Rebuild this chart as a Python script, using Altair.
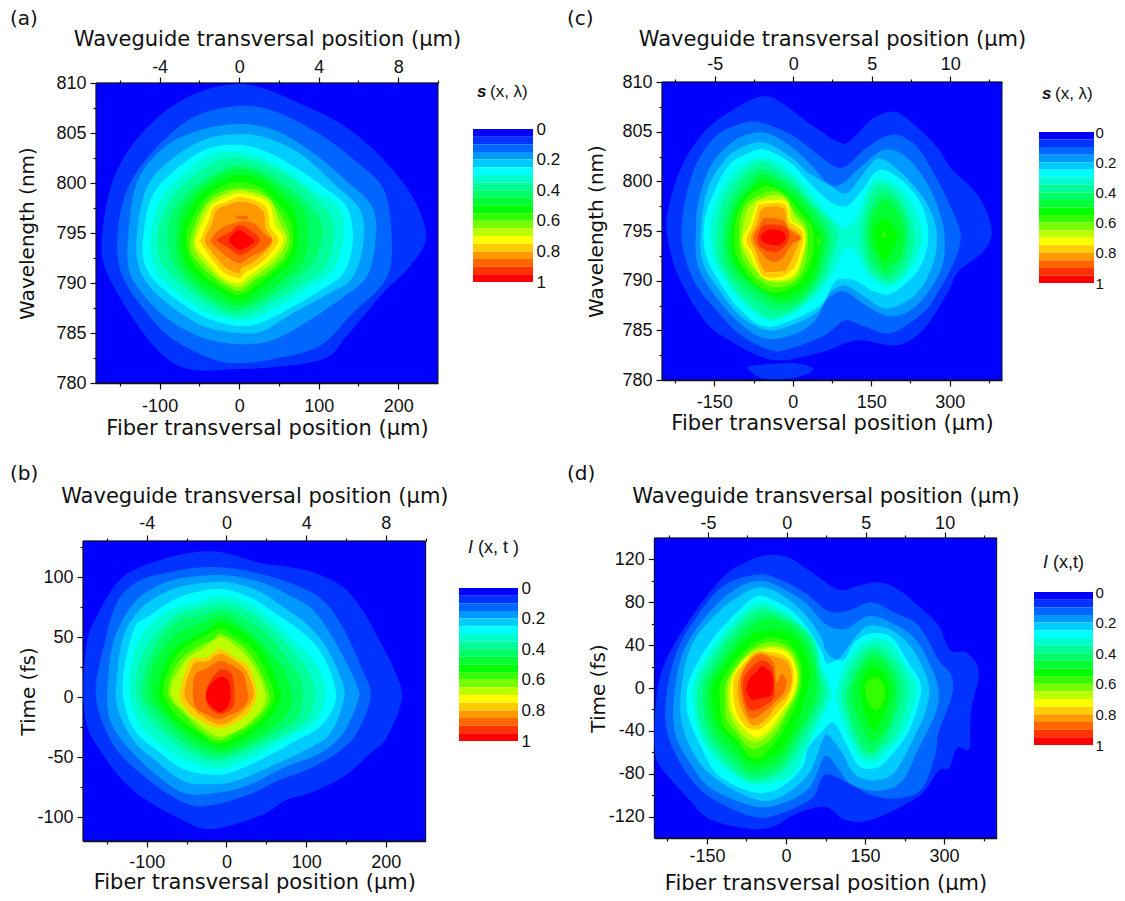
import altair as alt
import pandas as pd

COLORS = ["#0000ff","#0033ff","#0066ff","#0099ff","#00ccff","#00ffff","#00ffcc","#00ff99","#00ff66","#00ff33",
          "#00ff00","#33ff00","#77ff00","#bbff00","#ffff00","#ffcc00","#ff9900","#ff6600","#ff3300","#ff0000"]

# Contours: (band index, [(fiber position um, wavelength nm or time fs), ...])
A = [
(1,[(0,809.9),(81,807.8),(148,804.8),(210,799.6),(235,794.8),(214,791.6),(181,789),(135,784.7),(102,782.3),(0,781.4),(-87,782.2),(-162,790.3),(-171,795.6),(-147,802.3),(-82,807.8)]),
(2,[(0,807.7),(47,807.1),(101,804.9),(143,802.4),(182,799.3),(192,794),(184,790.3),(143,787),(101,783.7),(43,782.4),(0,782),(-34,782.4),(-82,784.3),(-116,787),(-147,790.7),(-153,794.6),(-141,799.3),(-107,803.3),(-57,806.6)]),
(3,[(0,805.9),(47,805.2),(93,803),(135,800.2),(168,797.5),(171,793.9),(160,790.6),(131,788.6),(81,785.9),(39,784.2),(0,783.9),(-45,784.5),(-91,786.5),(-124,789.2),(-139,791.5),(-139,795.2),(-128,800.2),(-95,803.5),(-53,805.2)]),
(4,[(0,804.9),(39,804.4),(81,802.7),(118,800),(152,797.3),(156,794),(143,790.6),(114,789),(68,787),(30,785.2),(0,785),(-45,785.7),(-86,787.7),(-116,790),(-128,792.3),(-128,795.3),(-116,799.6),(-86,802.3),(-45,804.3)]),
(5,[(0,803.8),(35,803.1),(72,801.5),(106,799.6),(135,797.6),(143,794.3),(131,791),(97,789),(60,787.3),(26,786),(0,785.7),(-41,786.5),(-78,788.3),(-107,790.3),(-120,792.3),(-120,794.9),(-110,798.6),(-82,801.2),(-41,803.4)]),
(6,[(0,803.1),(35,802.3),(68,800.8),(97,799.1),(126,797.5),(131,794.3),(118,791.3),(89,789.6),(60,788.2),(26,786.7),(0,786.3),(-41,787.1),(-74,788.8),(-101,790.8),(-110,792.6),(-110,795.3),(-99,798.3),(-74,800.6),(-36,802.8)]),
(7,[(0,802.5),(39,801.6),(72,800.1),(97,798.3),(116,796.6),(118,794.3),(108,791.6),(81,790),(51,788.5),(0,786.7),(-41,787.9),(-70,789.6),(-93,791.4),(-101,793),(-101,795.6),(-87,798.3),(-66,800.1),(-32,802)]),
(8,[(0,801.8),(35,801),(68,799.3),(89,797.6),(104,796),(104,794.3),(93,792),(72,790.5),(47,789),(0,787.2),(-36,788.3),(-66,790.1),(-82,791.8),(-89,793.3),(-89,796),(-78,798),(-57,799.6),(-28,801.1)]),
(9,[(0,801.4),(31,800.7),(60,799),(81,797.3),(87,794.6),(81,792.3),(60,790.6),(35,789),(0,787.7),(-36,788.8),(-61,790.5),(-76,792.3),(-78,795.6),(-68,797.8),(-49,799.5),(-24,800.8)]),
(10,[(0,800.8),(26,800.3),(51,798.8),(70,797),(74,794.3),(68,792.3),(51,791),(26,789.5),(0,788.2),(-32,789.5),(-57,791),(-70,792.6),(-72,795.3),(-61,797.5),(-45,799.1),(-20,800.3)]),
(11,[(0,800.1),(26,799.6),(45,798.3),(64,796.3),(68,794.3),(62,792.6),(43,791.1),(22,789.8),(0,788.8),(-28,789.8),(-51,791.3),(-64,793),(-66,795),(-55,797.1),(-41,798.6),(-20,799.7)]),
(12,[(0,799.5),(26,799.2),(43,797.9),(58,795.9),(64,794.3),(56,792.6),(35,791),(18,790.2),(0,789.2),(-26,790.2),(-49,791.8),(-61,793.1),(-61,794.6),(-51,796.8),(-38,798.3),(-20,799.2)]),
(13,[(0,799.3),(24,798.9),(41,798.1),(51,796),(60,794.4),(49,792.6),(31,791.3),(14,790.3),(0,789.6),(-24,790.4),(-45,792.1),(-56,793.3),(-57,794.5),(-47,796.8),(-36,798.1),(-18,798.9)]),
(14,[(0,799),(24,798.6),(39,797.8),(45,795.8),(56,794.4),(45,792.8),(26,791.5),(10,790.6),(0,790),(-22,790.6),(-43,792.5),(-54,793.6),(-54,794.5),(-43,796.5),(-34,797.8),(-15,798.6)]),
(15,[(0,798.6),(22,798.2),(35,797.4),(39,795.6),(49,794.4),(41,793.1),(24,791.8),(8,791.1),(0,790.5),(-20,791.1),(-38,792.8),(-48,794),(-48,794.5),(-38,796.3),(-32,797.6),(-13,798.2)]),
(16,[(0,798.1),(18,797.9),(31,797),(33,795.5),(42,794.3),(35,793.3),(18,792.1),(3,791.5),(0,791),(-18,791.6),(-36,793.3),(-43,794.3),(-34,796),(-28,797.3),(-11,797.9)]),
(17,[(0,796.1),(18,796),(33,794.8),(41,794.3),(31,793.3),(14,792.6),(0,792),(-15,792.6),(-28,793.5),(-36,794.3),(-22,795.5)]),
(17,[(-4,796.7),(10,796.7),(10,796.4),(-1,796.4)]),
(18,[(0,795.8),(18,795.1),(26,794.3),(18,793.5),(1,792.8),(-13,793.5),(-28,794.3),(-11,795.1)]),
(19,[(0,795.3),(14,794.6),(19,794.2),(10,793.6),(0,793.3),(-9,793.8),(-13,794.3),(-9,794.8)]),
]

B = [
(1,[(-38,120.8),(0,120),(42,111.7),(100,105.6),(146,91.7),(171,72),(192,47),(211,22),(220,-2),(200,-35),(180,-47),(150,-65),(109,-79),(75,-86),(42,-99),(-17,-110),(-54,-103),(-117,-78),(-159,-44),(-178,-14),(-176,42),(-159,72),(-130,100),(-84,114)]),
(2,[(-38,107.8),(0,107.8),(42,102.8),(88,93),(121,80.6),(146,58),(171,22),(181,0),(163,-30.6),(138,-47),(100,-61),(67,-69),(33,-80),(-17,-90),(-50,-89),(-92,-72),(-134,-47),(-155,-22),(-164,5.6),(-155,39),(-138,78),(-109,97),(-71,104)]),
(3,[(-38,100.6),(0,101.4),(42,95.8),(75,86),(109,72),(138,44),(163,11),(165,-2.8),(146,-30.6),(117,-47),(75,-58),(33,-72),(-4,-79),(-50,-80.6),(-84,-67),(-121,-44),(-146,-19.4),(-149,11),(-140,50),(-113,80.6),(-75,95.8)]),
(4,[(-38,94.4),(0,95.8),(38,88.9),(71,75),(100,61),(125,41.7),(146,11),(146,-5.6),(130,-30.6),(100,-44),(63,-55.6),(25,-66.7),(-4,-72),(-50,-71),(-84,-55.6),(-117,-36),(-137,-8),(-137,19.4),(-128,53),(-105,75),(-71,88.9)]),
(5,[(-38,87.5),(-4,90),(33,82),(63,69),(92,55.6),(117,39),(134,14),(136,-5.6),(117,-25),(88,-36),(50,-50),(13,-61),(-13,-65),(-54,-60),(-88,-44),(-115,-28),(-129,-2.8),(-128,25),(-115,58),(-98,67),(-67,80.6)]),
(6,[(-38,79),(-4,84),(33,76),(63,61),(84,47),(109,30.6),(123,11),(123,-5.6),(109,-22),(79,-33),(42,-47),(13,-55.6),(-13,-60),(-50,-53),(-84,-39),(-109,-22),(-121,0),(-119,27.8),(-105,53),(-71,72)]),
(7,[(-38,73.6),(-4,77.8),(29,70.8),(59,55.6),(84,37.5),(105,19.4),(111,0),(100,-19.4),(75,-30.6),(38,-43),(8,-51),(-13,-54),(-46,-47),(-75,-33),(-100,-16.7),(-113,2.8),(-109,27.8),(-92,50),(-63,68)]),
(8,[(-33,68),(-4,72.8),(25,65),(54,50),(75,33),(92,16.7),(96,0),(88,-18),(67,-27.8),(33,-40),(-8,-50),(-42,-43),(-71,-29),(-94,-11),(-105,2.8),(-100,25),(-84,47),(-59,64)]),
(9,[(-33,61),(-4,68),(21,58),(46,44),(67,27.8),(79,11),(82,-2.8),(73,-16.7),(54,-27.8),(25,-38.9),(-8,-46),(-42,-37.5),(-67,-23.6),(-88,-8),(-96,2.8),(-92,25),(-75,44),(-54,55.6)]),
(10,[(-25,55.6),(-8,62.5),(13,57),(38,44),(54,27.8),(66,8),(67,-2.8),(59,-14),(42,-25),(17,-36),(-8,-41.7),(-38,-33),(-63,-21),(-82,-5.6),(-86,5.6),(-77,27.8),(-63,41.7),(-42,50)]),
(11,[(-21,52.8),(-8,57),(13,50),(33,40),(46,26),(58,8),(59,-2.8),(50,-14),(33,-25),(13,-33),(-10,-39),(-33,-30.6),(-59,-18),(-76,-2.8),(-79,8),(-71,25),(-59,37.5),(-38,47)]),
(12,[(-17,47),(-8,52.8),(13,45.8),(29,36),(42,22),(52,5.6),(54,-2.8),(44,-14),(25,-25),(8,-30.6),(-10,-36),(-33,-27.8),(-54,-14),(-70,-2.8),(-73,8),(-65,23.6),(-52,34.7),(-33,43)]),
(13,[(-8,50),(13,41.7),(27,33),(40,19.4),(48,5.6),(49,-2.8),(40,-14),(21,-25),(4,-30.6),(-10,-33),(-31,-25),(-52,-12.5),(-67,-2.8),(-70,8),(-60,22),(-48,33),(-31,40)]),
(15,[(-8,40),(13,32),(27,26),(36,11),(38,1.4),(31,-11),(13,-21),(-8,-26),(-29,-21),(-48,-12.5),(-59,0),(-56,11),(-50,23.6),(-42,32),(-25,33)]),
(16,[(-8,36),(13,29),(23,23.6),(31,12.5),(34,1.4),(27,-8),(10,-18),(-8,-23),(-29,-16.7),(-44,-8),(-52,0),(-51,11),(-44,23.6),(-38,29),(-23,30)]),
(17,[(-8,30),(8,26),(21,19.4),(26,5.6),(27,-2.8),(17,-11),(4,-15),(-10,-18.6),(-27,-14),(-40,-7),(-42,9.7),(-38,19.4),(-25,23.6)]),
(18,[(-8,22.8),(6,19.4),(10,5.6),(9,-7),(0,-12.5),(-10,-13.9),(-23,-8),(-26,2.8),(-21,12.5)]),
(19,[(-8,16.7),(2,14),(5,2.8),(2,-7),(-8,-12.5),(-19,-8),(-26,0),(-21,9.7)]),
]

C = [
(1,[(-54,808.6),(-16,807.7),(35,805.7),(86,804),(108,804),(150,806.2),(195,807),(239,805.4),(278,803.3),(303,801.3),(354,798.6),(380,795.3),(367,793.1),(316,790.9),(297,788.9),(252,785.2),(201,783.5),(124,784),(61,782.9),(-35,782),(-118,783.9),(-169,786),(-220,790.6),(-239,794.3),(-239,797),(-214,801.3),(-169,805),(-105,807.5)]),
(1,[(-86,781.2),(-67,781.5),(-3,781.7),(38,781.2),(22,780.5),(-16,780.1),(-61,780.2)]),
(2,[(-67,806),(-3,804.7),(41,803),(80,801.5),(105,801.6),(137,803.2),(188,804.7),(233,803.7),(271,800.7),(297,798),(321,794.6),(306,791.6),(278,788.9),(252,786.9),(188,784.7),(137,785.4),(99,786),(61,784.5),(-3,783.2),(-41,783),(-99,784.5),(-144,786.9),(-188,789.9),(-211,793.6),(-209,797),(-188,801.3),(-150,804.4),(-105,805.7)]),
(3,[(-54,804.9),(-3,803.5),(41,801.3),(67,799.8),(92,799.7),(131,801.5),(176,803.2),(220,802.3),(259,799.6),(278,797.3),(290,794.6),(284,791.2),(239,787.6),(188,786.4),(137,787.6),(99,788.9),(67,788.2),(41,785.9),(-3,784.5),(-54,784.2),(-105,785.9),(-150,788.6),(-182,791.6),(-185,795.3),(-179,798.3),(-153,801.9),(-105,804.3)]),
(4,[(-54,803.9),(-3,802.4),(29,800.9),(67,799.7),(102,798.8),(134,800.7),(163,802.3),(201,801.2),(246,798.6),(271,796),(274,792.9),(252,789.8),(220,788),(176,787.2),(137,788.4),(102,789.5),(73,788.9),(48,786.9),(-3,785.5),(-48,785),(-99,786.4),(-137,788.8),(-172,791.9),(-175,795.5),(-163,799.2),(-134,801.9),(-99,803.4)]),
(5,[(-54,803.2),(-3,801.8),(29,800),(67,798.1),(102,797.5),(131,799),(163,801.1),(201,800.4),(239,798.3),(258,795.6),(255,792.9),(233,790.6),(188,788.7),(156,788.9),(124,789.9),(102,790.2),(80,789.9),(54,787.6),(-3,786),(-54,785.4),(-99,787),(-137,789.6),(-166,792.6),(-169,796),(-147,799.3),(-121,801.7),(-86,802.8)]),
(6,[(-54,802.4),(-3,800.9),(35,798.8),(73,796.4),(102,795.3),(124,796.6),(144,799.2),(163,800.3),(201,799.5),(233,797.3),(246,794.6),(239,792.6),(217,790.6),(182,789.4),(144,790.6),(124,792.6),(102,793.3),(77,790.9),(48,788.6),(-3,786.6),(-48,786),(-92,787.6),(-131,790.2),(-153,792.6),(-156,796),(-137,799),(-105,801.3)]),
(7,[(-54,801.9),(-3,800.3),(35,798),(73,796),(86,794.6),(77,792.6),(61,790.2),(29,788.2),(-3,786.9),(-48,786.4),(-92,788.1),(-124,790.2),(-144,792.6),(-144,796),(-124,799),(-92,801)]),
(7,[(163,799.6),(195,799),(220,796.9),(233,794.6),(227,792.6),(208,790.6),(182,789.9),(150,790.9),(131,793.3),(131,795.6),(144,798)]),
(8,[(-54,801.2),(-3,799.7),(29,798),(61,796),(73,794.3),(67,792.3),(48,789.9),(16,787.9),(-29,787),(-73,788.2),(-112,790.2),(-134,792.6),(-131,796),(-115,798.5),(-86,800.5)]),
(8,[(169,798.8),(201,798),(217,796),(220,794.3),(214,792.3),(195,790.9),(176,790.4),(153,791.6),(140,793.6),(140,795.6),(150,797.3)]),
(9,[(-54,800.7),(-3,799.2),(29,797.5),(54,795.6),(64,794.3),(57,792.3),(41,789.9),(10,788.2),(-29,787.7),(-67,788.9),(-105,790.6),(-124,792.6),(-124,795.6),(-108,798),(-80,799.8)]),
(9,[(176,798.1),(198,797.1),(211,795.6),(214,794.3),(204,792.3),(182,791.3),(176,790.9),(156,792.6),(147,794.3),(150,796.3),(160,797.3)]),
(10,[(-54,800),(-10,798.8),(22,797.1),(45,795.3),(54,794.3),(48,791.9),(29,789.9),(3,788.7),(-29,788.3),(-67,789.4),(-99,790.9),(-117,792.9),(-115,796),(-99,798),(-73,799.5)]),
(10,[(176,796.3),(195,795.3),(201,794.3),(188,793),(176,792),(160,793.3),(153,794.5),(160,795.6)]),
(11,[(-48,799.5),(-13,798.7),(13,797),(35,795.6),(41,793.9),(35,791.9),(16,790),(-10,789.1),(-41,788.8),(-73,789.8),(-99,791.6),(-111,793.3),(-108,796.3),(-89,798.3),(-67,799.2)]),
(11,[(172,794.9),(179,794.8),(178,794.4),(172,794.4)]),
(11,[(48,794.4),(54,794.1),(51,793.6),(47,793.7)]),
(12,[(-41,799),(-16,798.5),(6,796.8),(26,795.5),(29,793.9),(26,791.9),(10,790.2),(-13,789.5),(-41,789.4),(-70,790.3),(-94,792),(-102,793.6),(-100,796.3),(-83,798)]),
(13,[(-38,798.6),(-13,798.3),(3,796.6),(22,795.3),(26,793.9),(16,791.6),(6,790.4),(-16,789.9),(-48,790),(-67,790.8),(-89,792.4),(-98,793.9),(-92,796.3),(-77,797.8)]),
(14,[(-61,798),(-13,798),(-3,796.1),(19,795.3),(24,793.9),(13,791.6),(3,790.6),(-16,790.1),(-54,790.2),(-70,791.3),(-83,792.8),(-96,794.1),(-83,795.6),(-70,797.6)]),
(15,[(-61,797.7),(-16,797.7),(-6,796),(16,795.1),(19,793.9),(6,791.6),(-6,790.9),(-22,790.4),(-54,790.4),(-67,791.4),(-77,792.8),(-89,794.1),(-77,795.6),(-67,797.3)]),
(16,[(-57,797.3),(-19,797.3),(-10,795.6),(10,794.8),(13,794),(-10,791.3),(-19,791),(-51,790.9),(-61,791.6),(-70,792.9),(-80,794.3),(-67,795.9)]),
(17,[(-54,796.3),(-19,796.1),(-6,795.1),(16,794.3),(-3,793.6),(-19,792.3),(-41,791.9),(-61,792.9),(-75,794.3),(-64,795.5)]),
(18,[(-54,795.6),(-19,795.5),(-6,794.7),(-13,793.6),(-32,792.9),(-54,793.1),(-67,793.9),(-64,794.9)]),
(19,[(-48,795.1),(-22,795),(-13,794.3),(-26,793.6),(-48,793.7),(-62,794.3)]),
]

D = [
(1,[(-37,124),(4,122),(49,108),(99,92),(137,95.5),(175,98.6),(213,92),(258,74),(290,58),(312,35),(343,33),(366,15),(351,-22),(348,-56),(325,-56),(309,-75),(290,-77),(252,-101),(162,-123),(112,-123),(74,-111),(17,-118),(-27,-130),(-78,-131),(-148,-121.5),(-186,-103),(-236,-75),(-249,-56),(-246,-10),(-227,27),(-173,71),(-116,105),(-78,117)]),
(2,[(-53,106),(-15,102),(36,89),(80,72),(118,72),(162,80),(207,70),(252,58),(290,26),(314,12),(315,-7),(290,-41),(283,-63),(258,-94),(213,-103),(162,-100),(124,-90),(74,-81),(49,-103),(-15,-118),(-65,-120),(-141,-103),(-186,-81),(-224,-44),(-227,-7),(-205,37),(-154,77),(-110,98)]),
(3,[(-53,100),(-15,95),(36,80),(74,60),(112,55),(156,67),(200,61),(245,46),(277,18),(290,-4),(283,-25),(252,-56),(220,-87),(175,-96),(124,-90),(99,-75),(74,-64),(43,-94),(-15,-109),(-65,-110),(-141,-94),(-179,-72),(-211,-41),(-211,-1),(-192,37),(-145,71),(-97,92)]),
(4,[(-53,94),(-15,89),(30,72),(65,49),(77,33.5),(99,27),(125,43),(156,58),(201,54),(239,37),(270,6),(267,-19),(245,-44),(207,-78),(169,-86),(131,-81),(106,-60),(80,-44),(68,-50),(42,-81),(-15,-103),(-65,-103),(-135,-84),(-173,-63),(-198,-32),(-198,2.5),(-179,40),(-135,68),(-91,85)]),
(5,[(-53,86),(-24,82),(11,72),(42,55),(68,33.5),(77,23),(96,26),(112,27),(131,43),(163,51),(201,47),(232,24),(254,6),(254,-10),(232,-41),(194,-66),(169,-75),(137,-72),(112,-50),(90,-32),(68,-41),(42,-56),(30,-75),(-15,-94),(-65,-97),(-129,-81),(-160,-56),(-186,-25),(-186,2.5),(-164,27),(-129,52),(-84,75)]),
(6,[(-46,80),(-15,75),(17,64.5),(49,49),(68,21),(87,-4),(77,-19),(55,-41),(30,-66),(4,-84),(-59,-90.5),(-116,-75),(-154,-53),(-173,-25),(-176,2.5),(-157,24),(-122,49),(-78,72)]),
(6,[(163,46),(201,41),(223,24),(245,6),(245,-10),(223,-41),(188,-61),(169,-69),(144,-66),(118,-44),(96,-10),(106,15),(128,33.5)]),
(7,[(-46,75),(-8,69),(23,60),(55,43),(65,18),(77,-4),(65,-22),(42,-44),(11,-69),(-15,-81),(-65,-87),(-110,-72),(-148,-50),(-167,-25),(-167,2.5),(-148,23),(-116,46),(-75,68)]),
(7,[(163,40),(194,35),(220,18),(232,2.5),(229,-16),(207,-44),(175,-60),(163,-64),(144,-60),(125,-41),(106,-10),(115,12),(137,30)]),
(8,[(-40,70),(-2,64.5),(30,54),(52,37),(61,15),(68,-4),(55,-22),(30,-44),(4,-66),(-21,-78),(-65,-83),(-103,-69),(-141,-47),(-157,-22),(-157,2.5),(-138,21),(-110,43),(-72,63)]),
(8,[(163,35),(188,29),(213,12),(220,-4),(210,-22),(188,-47),(163,-60),(144,-53),(128,-35),(115,-10),(125,9),(144,26)]),
(9,[(-34,64.5),(-2,60),(30,49),(49,30),(58,12),(58,-4),(46,-22),(17,-47),(-15,-69),(-65,-77),(-97,-63),(-132,-44),(-148,-22),(-148,2.5),(-125,23),(-100,40),(-65,58)]),
(9,[(166,29),(188,23),(207,6),(207,-13),(191,-38),(169,-50),(156,-47),(137,-29),(125,-10),(131,9),(147,21)]),
(10,[(-27,54),(4,51),(30,40),(42,24),(47,12),(42,1),(27,-25),(-2,-53),(-34,-67),(-65,-70),(-91,-56),(-125,-38),(-138,-19),(-138,2.5),(-116,21),(-91,37),(-59,51)]),
(10,[(169,20),(188,12),(198,-1),(191,-19),(175,-35),(168,-41),(153,-29),(144,-13),(141,2.5),(153,15)]),
(11,[(-24,47),(4,43),(23,30),(30,18),(27,-4),(11,-25),(-15,-47),(-46,-64),(-72,-63),(-91,-50),(-119,-35),(-125,-16),(-125,2.5),(-106,20),(-81,33.5),(-53,44)]),
(11,[(172,10),(185,4),(188,-7),(182,-16),(170,-21),(156,-13),(150,-1),(156,7)]),
(12,[(-21,43),(4,38),(20,27),(27,12),(22,-4),(4,-22),(-21,-44),(-53,-56),(-72,-55),(-91,-44),(-113,-29),(-116,-10),(-113,6),(-94,21),(-72,33.5),(-46,41)]),
(13,[(-21,39),(4,35),(18,24),(23,10),(18,-4),(1,-21),(-27,-41),(-53,-50),(-69,-49),(-87,-41),(-106,-25),(-111,-7),(-106,9),(-87,23),(-65,33.5),(-43,38)]),
(14,[(-24,37),(4,32),(17,21),(21,9),(14,-7),(-8,-22),(-30,-38),(-53,-46),(-65,-44),(-84,-36),(-102,-22),(-106,-4),(-100,12),(-81,26),(-62,32),(-43,35)]),
(15,[(-27,33.5),(1,29),(12,20),(14,6),(4,-10),(-15,-22),(-40,-35),(-59,-39),(-78,-35),(-94,-22),(-100,-4),(-97,12),(-78,24),(-59,33.5)]),
(16,[(-27,30),(-2,26),(8,18),(11,6),(1,-7),(-18,-16),(-40,-30),(-62,-35),(-75,-29),(-87,-16),(-92,-1),(-87,12),(-75,23),(-53,33)]),
(17,[(-46,31),(-24,24),(-18,6),(-8,13),(1,6),(-5,-5),(-21,-13),(-40,-22),(-65,-29),(-78,-19),(-85,-4),(-84,12),(-65,27)]),
(18,[(-46,26),(-27,20),(-22,2.5),(-24,-10),(-40,-16),(-62,-21),(-75,-16),(-82,-1),(-78,12),(-62,21)]),
(19,[(-45,20),(-27,13),(-24,2.5),(-29,-7),(-53,-10),(-65,-11),(-75,-2),(-68,10),(-56,15)]),
]

CB_TICKS = [0, 0.2, 0.4, 0.6, 0.8, 1]
FIBER_AB = list(range(-150, 201, 50))
WG_AB = list(range(-6, 11, 2))
FIBER_CD = list(range(-225, 376, 75))
WG_CD = [-7.5, -5, -2.5, 0, 2.5, 5, 7.5, 10, 12.5]
WL_TICKS = [780 + 2.5 * k for k in range(13)]
TB_TICKS = list(range(-100, 126, 25))
TD_TICKS = list(range(-120, 121, 20))

W, H = 1109, 885
TITLE_FONT = "DejaVu Sans"
LABEL_FONT = "Liberation Sans"
BLACK = "#111111"


def ax(orient, offset, title, values, major, label_pad, title_pad, title_size, size_major=6, size_minor=3):
    return alt.Axis(
        orient=orient, offset=offset, title=title, values=values, grid=False,
        labelExpr=f"datum.value % {major} == 0 ? '' + datum.value : ''",
        tickSize={"expr": f"datum.value % {major} == 0 ? {size_major} : {size_minor}"},
        tickColor=BLACK, domainColor=BLACK, domainWidth=1.5, tickWidth=1.2,
        labelFont=LABEL_FONT, labelFontSize=18, labelColor=BLACK, labelPadding=label_pad, labelOverlap=False, labelFlush=False,
        titleFont=TITLE_FONT, titleFontSize=title_size, titleFontWeight="normal", titleColor=BLACK, titlePadding=title_pad)


def panel(polys, xr, yr, xdom, wdom, ydom, xt, wt, yt, xmaj, wmaj, ymaj, ytitle, bar_x, bar_y, lab, pad, cb_size, cb_pad):
    rows = [dict(x=x, y=y, level=lv, poly=p, i=i)
            for p, (lv, pts) in enumerate(polys) for i, (x, y) in enumerate(pts)]
    df = pd.DataFrame(rows)
    xs = alt.Scale(domain=xdom, range=xr, nice=False, zero=False)
    ys = alt.Scale(domain=ydom, range=[yr[0], yr[1]], nice=False, zero=False)
    ws = alt.Scale(domain=wdom, range=xr, nice=False, zero=False)
    box = pd.DataFrame({"x0": [xdom[0]], "x1": [xdom[1]], "y0": [ydom[0]], "y1": [ydom[1]], "w0": [wdom[0]]})
    frame = alt.Chart(box).mark_rect(fill="#0000ff", stroke=BLACK, strokeWidth=1).encode(
        x=alt.X("x0:Q", scale=xs, axis=ax("bottom", yr[0] - H, "Fiber transversal position (µm)", xt, xmaj, lab[0], pad[0], 21)),
        x2="x1:Q",
        y=alt.Y("y0:Q", scale=ys, axis=ax("left", -xr[0], ytitle, yt, ymaj, 4, pad[1], 20)),
        y2="y1:Q")
    contours = alt.Chart(df).mark_line(interpolate="cardinal-closed", strokeWidth=0, clip=True).encode(
        x=alt.X("x:Q", scale=xs, axis=None),
        y=alt.Y("y:Q", scale=ys, axis=None),
        fill=alt.Fill("level:O", scale=alt.Scale(domain=list(range(20)), range=COLORS), legend=None),
        detail="poly:N",
        order="i:Q")
    top = alt.Chart(box).mark_point(opacity=0).encode(
        x=alt.X("w0:Q", scale=ws, axis=ax("top", -yr[1], "Waveguide transversal position (µm)", wt, wmaj, lab[1], pad[2], 21)),
        y=alt.Y("y0:Q", scale=ys, axis=None))
    cb = pd.DataFrame({"level": list(range(20)), "lo": [k / 20 for k in range(20)], "hi": [(k + 1) / 20 for k in range(20)],
                       "a": [0] * 20, "b": [1] * 20})
    bar = alt.Chart(cb).mark_rect().encode(
        x=alt.X("a:Q", scale=alt.Scale(domain=[0, 1], range=bar_x), axis=None),
        x2="b:Q",
        y=alt.Y("lo:Q", scale=alt.Scale(domain=[0, 1], range=bar_y),
                axis=alt.Axis(orient="right", offset=bar_x[1] - W, title=None, values=CB_TICKS, domain=False, ticks=False,
                              grid=False, labelExpr="'' + datum.value", labelFont=LABEL_FONT, labelFontSize=cb_size,
                              labelColor=BLACK, labelPadding=cb_pad, labelOverlap=False, labelFlush=False)),
        y2="hi:Q",
        fill=alt.Fill("level:O", scale=alt.Scale(domain=list(range(20)), range=COLORS), legend=None))
    return [frame, contours, top, bar]


TXT = [("(a)", 2, 11, "DejaVu Sans", "normal", "normal", 20),
       ("(b)", 2, 466, "DejaVu Sans", "normal", "normal", 20),
       ("(c)", 559, 11, "DejaVu Sans", "normal", "normal", 20),
       ("(d)", 559, 466, "DejaVu Sans", "normal", "normal", 20),
       ("s", 469, 84, LABEL_FONT, "bold", "italic", 17),
       ("(x, λ)", 482, 84, LABEL_FONT, "normal", "normal", 17),
       ("s", 1034, 86, LABEL_FONT, "bold", "italic", 17),
       ("(x, λ)", 1047, 86, LABEL_FONT, "normal", "normal", 17),
       ("I", 460, 540, LABEL_FONT, "normal", "italic", 18),
       ("(x, t )", 470, 540, LABEL_FONT, "normal", "normal", 18),
       ("I", 1035, 555, LABEL_FONT, "normal", "italic", 18),
       ("(x,t)", 1045, 555, LABEL_FONT, "normal", "normal", 18)]

texts = [alt.Chart(pd.DataFrame({"t": [t]})).mark_text(
            align="left", baseline="middle", font=f, fontWeight=w, fontStyle=s, fontSize=z, color=BLACK
         ).encode(text="t:N", x=alt.value(x), y=alt.value(y))
         for t, x, y, f, w, s, z in TXT]

layers = (
    panel(A, [88, 430], [375, 75], [-180, 250], [-7.2, 10], [780, 810], FIBER_AB, WG_AB, WL_TICKS, 100, 4, 5,
          "Wavelength (nm)", [465, 525], [121, 274], (8, 1), (2, 18, 9), 17, 3) +
    panel(B, [75, 417.7], [833, 533], [-180, 250], [-7.2, 10], [-120, 130], FIBER_AB, WG_AB, TB_TICKS, 100, 4, 50,
          "Time (fs)", [451, 510], [580, 733], (6, 3), (0, -2, 8), 17, 3) +
    panel(C, [654, 994], [372, 74], [-250, 400], [-8.36, 13.3], [780, 810], FIBER_CD, WG_CD, WL_TICKS, 150, 5, 5,
          "Wavelength (nm)", [1031, 1086], [124, 275], (7, 3), (1, 15, 6), 15, 1) +
    panel(D, [646.3, 988.7], [830, 530], [-250, 400], [-8.4, 13.3], [-140, 140], FIBER_CD, WG_CD, TD_TICKS, 150, 5, 40,
          "Time (fs)", [1026, 1085], [584, 737], (3, 0), (7, 0, 8), 15, 2) +
    texts
)

chart = alt.layer(*layers).resolve_scale(x="independent", y="independent").properties(
    width=W, height=H, padding=0, autosize=alt.AutoSizeParams(type="none"),
    background="white"
).configure_view(stroke=None)

chart.save("out.html", embed_options={"renderer": "svg", "actions": False})
